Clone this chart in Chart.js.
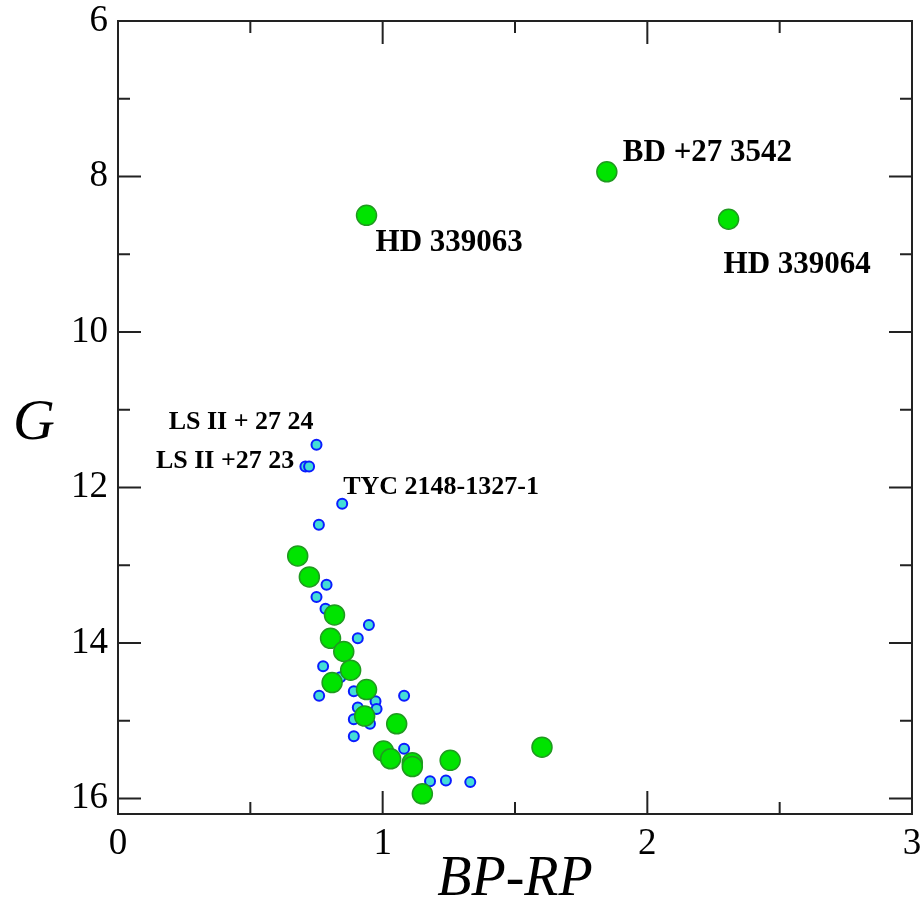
<!DOCTYPE html>
<html>
<head>
<meta charset="utf-8">
<script src="https://cdn.jsdelivr.net/npm/chart.js@4.4.1/dist/chart.umd.min.js"></script>
<style>
  html, body { margin: 0; padding: 0; background: #ffffff; }
  #wrap { width: 924px; height: 913px; }
</style>
</head>
<body>
<div id="wrap"><canvas id="cmd" width="924" height="913"></canvas></div>
<script>
// Colour–magnitude diagram: Gaia G vs BP-RP

// Larger (green) stars
const bigBP = [1.847, 0.939, 2.307, 0.679, 0.723, 0.818, 0.803, 0.853, 0.879, 0.809,
               0.939, 0.932, 1.053, 1.602, 1.003, 1.030, 1.112, 1.112, 1.255, 1.150];
const bigG  = [7.94, 8.50, 8.55, 12.88, 13.15, 13.64, 13.94, 14.11, 14.35, 14.51,
               14.60, 14.94, 15.04, 15.34, 15.39, 15.49, 15.54, 15.59, 15.51, 15.94];

// Smaller (blue) stars
const smallBP = [0.750, 0.708, 0.722, 0.847, 0.759, 0.788, 0.750, 0.784, 0.948, 0.906,
                 0.775, 0.840, 0.760, 0.891, 1.081, 0.973, 0.906, 0.977, 0.891, 0.952,
                 0.891, 1.081, 1.179, 1.239, 1.331];
const smallG  = [11.45, 11.73, 11.73, 12.21, 12.48, 13.25, 13.41, 13.56, 13.77, 13.94,
                 14.30, 14.44, 14.68, 14.62, 14.68, 14.75, 14.83, 14.85, 14.98, 15.04,
                 15.20, 15.36, 15.78, 15.77, 15.79];

// Tick values
const xTicks = [0, 1, 2, 3];
const yTicks = [6, 8, 10, 12, 14, 16];

// Named stars (label text and the star it belongs to)
const starNames = ['BD +27 3542', 'HD 339063', 'HD 339064', 'LS II + 27 24', 'LS II +27 23', 'TYC 2148-1327-1'];
const starBP    = [1.847, 0.939, 2.307, 0.750, 0.715, 0.847];
const starG     = [7.94, 8.50, 8.55, 11.45, 11.73, 12.21];

const SERIF = "'Liberation Serif', 'DejaVu Serif', serif";

function toPoints(xs, ys) { return xs.map((x, i) => ({ x: x, y: ys[i] })); }

// Label placement relative to each star: pixel offset, alignment, font size
const labelStyle = [
  { dx: 16, dy: -19, align: 'left',  size: 31 },
  { dx: 9,  dy: 28,  align: 'left',  size: 31 },
  { dx: -5, dy: 46,  align: 'left',  size: 31 },
  { dx: -3, dy: -22, align: 'right', size: 26 },
  { dx: -13, dy: -5, align: 'right', size: 26 },
  { dx: 1,  dy: -17, align: 'left',  size: 26 }
];

function noScalePadding(scale) {
  scale.paddingLeft = 0; scale.paddingRight = 0;
  scale.paddingTop = 0; scale.paddingBottom = 0;
}

const framePlugin = {
  id: 'frame',
  afterDraw(chart) {
    const { ctx, chartArea: a, scales } = chart;
    const xs = scales.x, ys = scales.y;
    ctx.save();
    ctx.strokeStyle = '#222';
    ctx.lineWidth = 2;
    ctx.strokeRect(a.left, a.top, a.right - a.left, a.bottom - a.top);
    const MAJ = 23, MIN = 12;
    ctx.beginPath();
    // x ticks on bottom and top, pointing inward
    for (let v = 0.5; v < 3; v += 0.5) {
      const px = xs.getPixelForValue(v);
      const len = Number.isInteger(v) ? MAJ : MIN;
      ctx.moveTo(px, a.bottom); ctx.lineTo(px, a.bottom - len);
      ctx.moveTo(px, a.top);    ctx.lineTo(px, a.top + len);
    }
    // y ticks on left and right, pointing inward
    for (let v = 7; v <= 16; v += 1) {
      const py = ys.getPixelForValue(v);
      const len = (v % 2 === 0) ? MAJ : MIN;
      ctx.moveTo(a.left, py);  ctx.lineTo(a.left + len, py);
      ctx.moveTo(a.right, py); ctx.lineTo(a.right - len, py);
    }
    ctx.stroke();

    // star names
    ctx.fillStyle = '#000';
    ctx.textBaseline = 'middle';
    starNames.forEach((name, i) => {
      const st = labelStyle[i];
      const px = xs.getPixelForValue(starBP[i]) + st.dx;
      const py = ys.getPixelForValue(starG[i]) + st.dy;
      ctx.font = 'bold ' + st.size + 'px ' + SERIF;
      ctx.textAlign = st.align;
      ctx.fillText(name, px, py);
    });

    // axis titles
    ctx.font = 'italic 58px ' + SERIF;
    ctx.textAlign = 'center';
    ctx.fillText('G', a.left - 84, (a.top + a.bottom) / 2 + 6);
    ctx.font = 'italic 56px ' + SERIF;
    ctx.fillText('BP-RP', (a.left + a.right) / 2, a.bottom + 66);
    ctx.restore();
  }
};

new Chart(document.getElementById('cmd'), {
  type: 'scatter',
  data: {
    datasets: [
      {
        label: 'bright',
        data: toPoints(bigBP, bigG),
        pointRadius: 10,
        pointBackgroundColor: '#00e400',
        pointBorderColor: '#1f9a1f',
        pointBorderWidth: 1.5,
        order: 1
      },
      {
        label: 'faint',
        data: toPoints(smallBP, smallG),
        pointRadius: 5,
        pointBackgroundColor: '#44ddd6',
        pointBorderColor: '#0a1cff',
        pointBorderWidth: 2,
        order: 2
      }
    ]
  },
  options: {
    responsive: false,
    animation: false,
    layout: { padding: { top: 21, right: 12, left: 0, bottom: 0 } },
    plugins: { legend: { display: false }, tooltip: { enabled: false } },
    scales: {
      x: {
        type: 'linear',
        min: 0, max: 3,
        grid: { display: false, drawTicks: false },
        border: { display: false },
        afterBuildTicks(scale) { scale.ticks = xTicks.map(v => ({ value: v })); },
        afterFit(scale) { scale.height = 99; noScalePadding(scale); },
        ticks: {
          color: '#000',
          padding: 12,
          maxRotation: 0,
          autoSkip: false,
          font: { family: SERIF, size: 37, lineHeight: 1 }
        }
      },
      y: {
        type: 'linear',
        reverse: true,
        min: 6, max: 16.2,
        grid: { display: false, drawTicks: false },
        border: { display: false },
        afterBuildTicks(scale) { scale.ticks = yTicks.map(v => ({ value: v })); },
        afterFit(scale) { scale.width = 118; noScalePadding(scale); },
        ticks: {
          color: '#000',
          padding: 10,
          autoSkip: false,
          font: { family: SERIF, size: 37, lineHeight: 1 }
        }
      }
    }
  },
  plugins: [framePlugin]
});
</script>
</body>
</html>
